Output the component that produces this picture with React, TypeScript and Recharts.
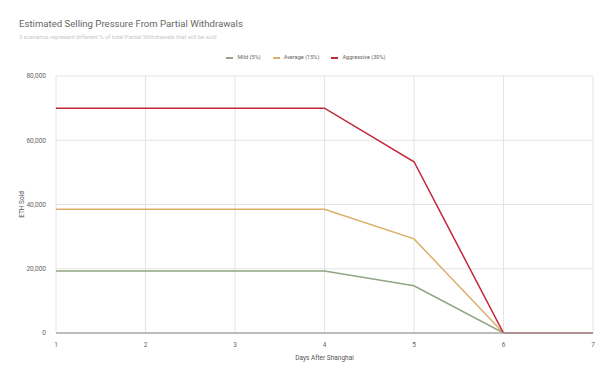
import { LineChart, Line, XAxis, YAxis, CartesianGrid, Label } from "recharts"

const days = [1, 2, 3, 4, 5, 6, 7]
const mild = [19300, 19300, 19300, 19300, 14700, 0, 0]
const average = [38500, 38500, 38500, 38500, 29300, 0, 0]
const aggressive = [70000, 70000, 70000, 70000, 53300, 0, 0]
const yTicks = [0, 20000, 40000, 60000, 80000]

const series = [
  { key: "mild", label: "Mild (5%)", color: "#8fa584" },
  { key: "average", label: "Average (15%)", color: "#dcae6a" },
  { key: "aggressive", label: "Aggressive (30%)", color: "#c2263a" },
]

const data = days.map((day, i) => ({
  day,
  mild: mild[i],
  average: average[i],
  aggressive: aggressive[i],
}))

const font = "Roboto, 'Liberation Sans', Arial, sans-serif"

export default function App() {
  return (
    <div
      style={{
        position: "absolute",
        left: 0,
        top: 0,
        width: 612,
        height: 378,
        background: "#fff",
        fontFamily: font,
      }}
    >
      <div style={{ position: "absolute", left: 19, top: 18, fontSize: 9.6, color: "#666", lineHeight: "12px" }}>
        Estimated Selling Pressure From Partial Withdrawals
      </div>
      <div style={{ position: "absolute", left: 19, top: 34, fontSize: 5.8, color: "#c8c8c8", lineHeight: "7px" }}>
        3 scenarios represent different % of total Partial Withdrawals that will be sold
      </div>
      <div
        style={{
          position: "absolute",
          top: 54,
          left: 0,
          width: 612,
          display: "flex",
          justifyContent: "center",
          gap: 12,
          fontSize: 5.6,
          color: "#666",
          lineHeight: "7px",
        }}
      >
        {series.map((s) => (
          <span key={s.key} style={{ display: "flex", alignItems: "center", gap: 4 }}>
            <span style={{ width: 7, height: 2, background: s.color, display: "inline-block" }} />
            {s.label}
          </span>
        ))}
      </div>
      <LineChart
        width={612}
        height={378}
        data={data}
        margin={{ top: 76, right: 19, left: 0, bottom: 15 }}
        style={{ position: "absolute", left: 0, top: 0 }}
      >
        <CartesianGrid stroke="#e4e4e4" strokeWidth={1} />
        <XAxis
          dataKey="day"
          type="number"
          domain={[1, 7]}
          ticks={days}
          height={30}
          tick={{ fontSize: 6.5, fill: "#666", fontFamily: font }}
          tickLine={false}
          axisLine={{ stroke: "#aaa", strokeWidth: 1.5 }}
          tickMargin={3}
        >
          <Label
            value="Days After Shanghai"
            position="insideBottom"
            offset={3}
            style={{ fontSize: 6.5, fill: "#555", fontFamily: font }}
          />
        </XAxis>
        <YAxis
          width={56}
          domain={[0, 80000]}
          ticks={yTicks}
          tickFormatter={(v) => Number(v).toLocaleString("en-US")}
          tick={{ fontSize: 6.5, fill: "#666", fontFamily: font }}
          tickLine={false}
          axisLine={false}
          tickMargin={4}
        >
          <Label
            value="ETH Sold"
            angle={-90}
            position="insideLeft"
            offset={22}
            style={{ fontSize: 6.5, fill: "#555", fontFamily: font, textAnchor: "middle" }}
          />
        </YAxis>
        {series.map((s) => (
          <Line
            key={s.key}
            dataKey={s.key}
            stroke={s.color}
            strokeWidth={1.5}
            dot={false}
            isAnimationActive={false}
          />
        ))}
      </LineChart>
    </div>
  )
}
